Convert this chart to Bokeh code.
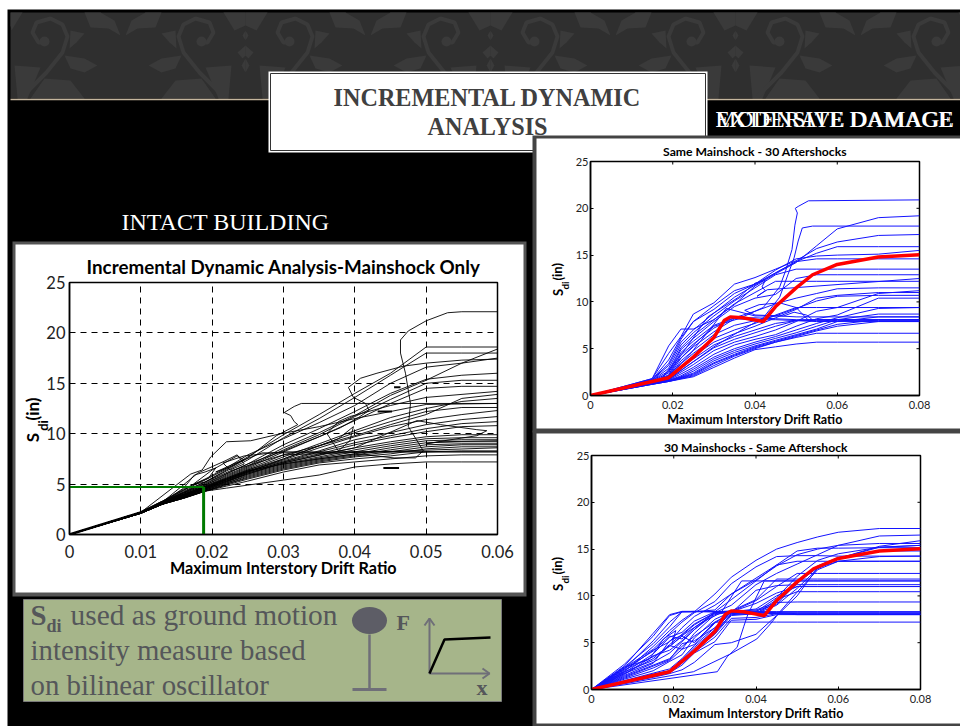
from bokeh.plotting import figure
from bokeh.models import Range1d, FixedTicker
from bokeh.core.properties import value
from bokeh.embed import file_html
from bokeh.resources import INLINE

# ---------- data ----------
TICKS_MAIN_X = [0, .01, .02, .03, .04, .05, .06]
TICKS_AFTER_X = [0, .02, .04, .06, .08]
TICKS_Y = [0, 5, 10, 15, 20, 25]

TRUNK_X = [0, .01, .013]
TRUNK_Y = [0, 2.2, 3.2]
X_MAIN = [0, .01, .013, .016, .019, .022, .025, .03, .035, .04, .045, .05, .055, .06]
Y_MAIN = [
    [0, 2.2, 3.3, 4.4, 5.4, 6.5, 7.7, 9.9, 11.9, 14.0, 16.0, 18.6, 18.6, 18.6],
    [0, 2.2, 3.2, 4.3, 5.2, 6.3, 7.4, 9.6, 11.5, 13.6, 15.8, 18.0, 18.0, 18.0],
    [0, 2.2, 3.3, 4.5, 5.5, 6.6, 7.9, 9.5, 11.1, 12.8, 15.0, 16.6, 17.0, 17.5],
    [0, 2.2, 3.2, 4.2, 5.0, 6.0, 7.0, 8.9, 10.5, 12.2, 14.0, 15.4, 15.8, 16.0],
    [0, 2.2, 3.2, 4.1, 4.9, 5.9, 6.8, 8.6, 10.1, 11.8, 13.8, 15.3, 17.0, 18.4],
    [0, 2.2, 3.2, 4.1, 4.9, 5.8, 6.7, 8.4, 9.9, 11.7, 13.4, 15.0, 15.3, 15.3],
    [0, 2.2, 3.2, 4.0, 4.8, 5.7, 6.6, 8.2, 9.7, 11.3, 13.0, 14.5, 14.7, 14.7],
    [0, 2.2, 3.1, 4.0, 4.8, 5.6, 6.5, 7.9, 8.8, 9.8, 10.9, 11.9, 13.5, 13.9],
    [0, 2.2, 3.1, 4.0, 4.7, 5.6, 6.4, 7.7, 9.0, 10.3, 11.6, 12.5, 13.2, 13.5],
    [0, 2.2, 3.1, 3.9, 4.7, 5.5, 6.4, 7.5, 8.8, 10.1, 11.2, 12.2, 12.6, 12.6],
    [0, 2.2, 3.1, 3.9, 4.6, 5.5, 6.3, 7.4, 8.6, 9.7, 10.7, 11.4, 11.9, 12.3],
    [0, 2.2, 3.1, 3.9, 4.6, 5.4, 6.3, 7.3, 8.3, 9.4, 10.1, 10.9, 11.4, 11.7],
    [0, 2.2, 3.1, 3.8, 4.6, 5.4, 6.2, 7.2, 8.2, 9.1, 9.8, 10.5, 11.0, 11.2],
    [0, 2.2, 3.0, 3.8, 4.5, 5.3, 6.2, 7.2, 8.0, 8.9, 9.6, 10.2, 10.7, 10.8],
    [0, 2.2, 3.0, 3.8, 4.5, 5.3, 6.1, 7.1, 7.9, 8.6, 9.2, 9.7, 9.9, 9.9],
    [0, 2.2, 3.0, 3.8, 4.5, 5.2, 6.1, 7.0, 7.7, 8.4, 9.0, 9.5, 9.6, 9.6],
    [0, 2.2, 3.0, 3.7, 4.4, 5.2, 6.0, 6.9, 7.6, 8.2, 8.8, 9.3, 9.4, 9.4],
    [0, 2.1, 3.0, 3.7, 4.4, 5.1, 5.9, 6.8, 7.5, 8.0, 8.6, 9.1, 9.2, 9.2],
    [0, 2.1, 3.0, 3.7, 4.4, 5.1, 5.8, 6.7, 7.4, 7.9, 8.4, 8.9, 9.0, 9.0],
    [0, 2.1, 3.0, 3.7, 4.3, 5.0, 5.7, 6.6, 7.3, 7.8, 8.2, 8.7, 8.9, 8.9],
    [0, 2.1, 3.0, 3.6, 4.3, 5.0, 5.6, 6.5, 7.2, 7.7, 8.0, 8.5, 8.7, 8.7],
    [0, 2.1, 3.0, 3.6, 4.3, 4.9, 5.5, 6.4, 7.1, 7.5, 7.8, 8.2, 8.3, 8.3],
    [0, 2.1, 3.0, 3.6, 4.3, 4.8, 5.3, 6.2, 6.9, 7.2, 7.5, 7.8, 7.9, 7.9],
    [0, 2.1, 3.0, 3.6, 4.3, 4.6, 4.9, 5.4, 5.9, 6.7, 7.0, 7.2, 7.2, 7.2],
]
# curves that double back on themselves (collapse hooks and loops)
HOOK_X = [
    [0, .01, .013, .02, .025, .03, .04, .0455, .0485, .0496, .0475, .0478, .0471, .0464, .0464, .0475, .05, .053, .055, .06],
    [0, .01, .013, .019, .025, .029, .032, .0315, .031, .0301, .0315, .0325, .06],
    [0, .01, .013, .02, .025, .03, .035, .038, .0405, .042, .0415, .0398, .0391, .0408, .0431, .0468, .05, .055, .06],
    [0, .01, .013, .02, .025, .03, .0377, .0398, .0393, .0377, .0361, .0377, .0393, .045, .05, .06],
    [0, .01, .013, .02, .025, .03, .04, .0487, .052, .0571, .0585, .0571, .0525, .05, .052, .06],
    [0, .01, .0146, .017, .0186, .0198, .022, .0254, .0296, .035, .04, .05, .06],
    [0, .01, .013, .018, .0218, .0235, .0245, .0225, .0215, .0245, .03, .06],
    [0, .01, .013, .017, .02, .0235, .0245, .0225, .0205, .023, .027, .032, .04, .06],
    [0, .01, .013, .016, .0175, .019, .0205, .0195, .0175, .019, .0225, .03, .06],
]
HOOK_Y = [
    [0, 2.2, 3.2, 5.0, 6.3, 7.0, 8.0, 7.6, 7.6, 8.3, 10.7, 13.0, 16.0, 18.0, 19.3, 20.2, 21.2, 22.0, 22.1, 22.1],
    [0, 2.2, 3.2, 5.2, 7.6, 9.8, 10.9, 11.2, 11.8, 12.1, 12.7, 13.0, 13.0],
    [0, 2.2, 3.2, 5.4, 7.0, 8.3, 9.7, 10.6, 11.6, 12.3, 13.0, 13.6, 14.6, 15.5, 16.0, 16.7, 17.0, 17.3, 17.4],
    [0, 2.2, 3.2, 4.9, 6.2, 7.5, 9.5, 10.7, 9.3, 8.3, 10.0, 11.2, 11.7, 12.8, 13.6, 14.2],
    [0, 2.2, 3.1, 4.8, 6.0, 7.1, 8.6, 11.3, 10.9, 10.4, 10.3, 9.8, 9.3, 9.0, 9.2, 9.3],
    [0, 2.2, 4.7, 6.0, 6.4, 7.7, 9.2, 9.3, 10.0, 10.7, 11.5, 12.9, 13.0],
    [0, 2.2, 3.2, 6.1, 7.3, 7.9, 7.0, 6.4, 7.1, 7.8, 8.2, 8.2],
    [0, 2.2, 3.2, 4.8, 6.4, 7.8, 7.4, 6.7, 6.2, 7.0, 8.1, 8.1, 8.2, 8.2],
    [0, 2.2, 3.2, 4.6, 5.9, 6.2, 6.6, 5.6, 5.0, 5.2, 6.3, 7.9, 8.6, 8.6],
]
STUB_X0 = [.0432, .0455, .0440]
STUB_X1 = [.0452, .0464, .0462]
STUB_Y = [12.2, 14.6, 6.6]
INTENSITY_X = [0, .0188, .0188]
INTENSITY_Y = [4.7, 4.7, 0]

X_AFTER = [0, .015, .019, .022, .025, .03, .035, .04, .045, .05, .055, .06, .07, .08]
Y_AFTER = [
    [0, 1.2, 1.5, 1.75, 2.0, 3.0, 4.0, 4.9, 5.2, 5.5, 5.7, 5.7, 5.7, 5.7],
    [0, 1.2, 1.5, 1.8, 2.1, 3.2, 4.2, 5.0, 5.7, 6.2, 6.65, 6.65, 6.65, 6.65],
    [0, 1.2, 1.5, 1.85, 2.2, 3.4, 4.3, 5.1, 5.7, 6.3, 6.9, 7.4, 7.9, 7.9],
    [0, 1.25, 1.55, 1.9, 2.3, 3.5, 4.4, 5.2, 5.8, 6.4, 7.0, 7.6, 8.1, 8.1],
    [0, 1.25, 1.55, 1.95, 2.4, 3.7, 4.6, 5.3, 5.9, 6.5, 7.1, 7.9, 8.4, 8.4],
    [0, 1.25, 1.6, 2.0, 2.6, 3.9, 4.8, 5.5, 6.1, 6.7, 7.4, 8.1, 8.7, 8.7],
    [0, 1.3, 1.6, 2.1, 2.8, 4.1, 5.0, 5.7, 6.3, 7.0, 7.7, 8.3, 9.3, 9.4],
    [0, 1.3, 1.65, 2.3, 3.0, 4.4, 5.4, 6.0, 6.5, 7.4, 8.2, 8.6, 10.4, 10.4],
    [0, 1.3, 1.7, 2.5, 3.3, 4.8, 5.7, 6.3, 7.0, 7.9, 9.0, 9.4, 10.9, 11.2],
    [0, 1.35, 1.75, 2.7, 3.6, 5.1, 6.0, 6.7, 7.4, 8.0, 8.1, 8.1, 8.1, 8.1],
    [0, 1.35, 1.75, 2.9, 3.9, 5.4, 6.3, 7.0, 7.7, 8.0, 7.9, 7.9, 7.9, 7.9],
    [0, 1.4, 1.8, 3.1, 4.2, 5.7, 6.6, 7.4, 8.3, 9.2, 10.4, 10.7, 11.0, 11.0],
    [0, 1.4, 1.85, 3.4, 4.5, 6.1, 7.0, 7.7, 8.6, 9.4, 9.4, 9.4, 9.4, 9.4],
    [0, 1.45, 1.9, 3.7, 4.8, 6.5, 7.5, 8.0, 8.5, 9.3, 10.1, 10.6, 10.7, 10.7],
    [0, 1.45, 2.0, 4.0, 5.2, 6.8, 8.2, 8.1, 8.1, 8.0, 8.0, 8.0, 8.0, 8.0],
    [0, 1.5, 2.1, 4.3, 5.5, 7.2, 8.3, 8.3, 8.2, 8.1, 8.1, 8.1, 8.1, 8.1],
    [0, 1.5, 2.2, 4.6, 5.8, 7.5, 8.3, 9.0, 9.8, 10.4, 10.9, 11.4, 11.5, 11.5],
    [0, 1.55, 2.4, 4.9, 6.1, 7.9, 9.5, 10.4, 10.8, 12.5, 12.9, 12.9, 12.9, 12.9],
    [0, 1.6, 2.6, 5.1, 6.4, 8.1, 9.8, 11.0, 12.2, 12.2, 12.2, 12.2, 12.2, 12.2],
    [0, 1.6, 2.9, 5.4, 6.7, 8.5, 10.1, 11.5, 12.9, 13.5, 13.5, 13.5, 13.5, 13.5],
    [0, 1.65, 3.2, 5.7, 7.0, 8.8, 10.5, 11.8, 13.1, 14.3, 14.6, 14.6, 14.6, 14.6],
    [0, 1.7, 3.4, 6.0, 7.9, 9.2, 10.9, 11.9, 13.4, 14.6, 14.9, 15.0, 15.1, 15.5],
    [0, 1.7, 3.8, 6.2, 7.9, 9.6, 11.2, 11.9, 13.1, 14.3, 15.2, 15.9, 15.9, 15.9],
    [0, 1.8, 4.5, 6.3, 8.7, 9.9, 11.9, 12.6, 13.5, 14.4, 15.7, 16.4, 17.1, 17.2],
    [0, 1.8, 5.3, 7.1, 7.1, 8.1, 9.7, 11.7, 13.0, 14.2, 16.0, 17.8, 19.0, 19.2],
]
AFTER_HOOK_X = [
    [0, .017, .022, .026, .03, .036, .042, .046, .0475, .049, .0497, .0503, .0498, .0505, .053, .08],
    [0, .019, .024, .03, .036, .042, .046, .048, .0495, .0505, .0515, .054, .08],
    [0, .018, .024, .03, .033, .04, .047, .0495, .0525, .0537, .0533, .05, .046, .041, .0375, .04, .046, .05, .08],
    [0, .017, .023, .0285, .036, .04, .0425, .0417, .0425, .0405, .043, .08],
]
AFTER_HOOK_Y = [
    [0, 1.7, 4.0, 5.8, 7.4, 8.2, 9.4, 11.6, 13.4, 15.6, 18.2, 19.5, 20.0, 20.2, 20.8, 20.9],
    [0, 1.7, 3.3, 5.2, 6.8, 8.3, 10.5, 12.9, 14.7, 16.5, 17.9, 18.1, 18.1],
    [0, 1.7, 4.3, 7.6, 9.3, 8.5, 8.5, 8.9, 8.6, 8.2, 7.9, 9.4, 9.9, 9.7, 9.1, 8.6, 8.5, 8.4, 8.4],
    [0, 1.7, 4.9, 8.4, 10.5, 12.0, 12.3, 11.6, 11.2, 10.6, 11.3, 12.5],
]
MEAN_X = [0, .019, .025, .03, .0325, .034, .037, .042, .045, .05, .054, .06, .07, .08]
MEAN_Y = [0, 1.9, 4.1, 6.2, 8.0, 8.4, 8.3, 7.9, 9.5, 11.5, 12.9, 14.0, 14.8, 15.05]

X_SHOCK = [0, .008, .015, .019, .022, .025, .03, .034, .04, .045, .05, .055, .06, .07, .08]
Y_SHOCK = [
    [0, 2.7, 5.7, 7.9, 8.3, 8.3, 10.2, 12.0, 13.8, 15.0, 15.7, 16.3, 16.8, 17.2, 17.2],
    [0, 2.5, 6.0, 8.0, 8.35, 8.35, 8.35, 8.3, 8.2, 8.1, 8.05, 8.05, 8.05, 8.05, 8.05],
    [0, 2.2, 5.2, 7.2, 8.3, 8.35, 8.3, 8.3, 8.2, 8.1, 8.0, 8.0, 8.0, 8.0, 8.0],
    [0, 1.9, 4.6, 6.3, 7.4, 8.3, 8.3, 8.3, 8.3, 8.3, 8.3, 8.3, 8.3, 8.3, 8.3],
    [0, 2.4, 4.9, 6.7, 8.3, 8.3, 8.5, 10.2, 11.9, 13.3, 13.7, 13.7, 13.7, 13.7, 13.7],
    [0, 2.3, 4.3, 6.0, 7.2, 8.2, 9.4, 11.3, 13.1, 14.2, 14.3, 14.3, 14.25, 14.25, 14.25],
    [0, 2.0, 4.2, 5.1, 6.6, 7.8, 9.0, 10.2, 11.7, 13.2, 14.4, 15.0, 15.4, 15.6, 15.6],
    [0, 1.8, 3.8, 5.6, 6.1, 7.3, 8.3, 9.6, 11.6, 13.3, 14.8, 15.1, 15.1, 15.15, 15.15],
    [0, 1.7, 3.3, 4.8, 5.9, 7.0, 8.2, 9.0, 11.2, 12.4, 13.4, 14.4, 15.4, 16.4, 16.5],
    [0, 1.6, 3.6, 4.2, 5.2, 6.4, 8.3, 8.4, 9.6, 11.8, 11.8, 11.8, 11.8, 11.8, 11.8],
    [0, 1.5, 2.8, 5.2, 5.8, 6.9, 8.2, 8.3, 8.5, 9.3, 9.35, 9.35, 9.35, 9.35, 9.35],
    [0, 1.4, 2.6, 3.3, 4.6, 5.7, 7.2, 7.2, 7.2, 7.2, 7.2, 7.2, 7.2, 7.2, 7.2],
    [0, 1.3, 2.5, 3.2, 4.9, 5.2, 6.6, 8.3, 9.5, 11.0, 12.4, 12.4, 12.4, 12.4, 12.4],
    [0, 1.2, 2.3, 3.1, 4.3, 4.8, 7.1, 8.2, 10.6, 11.1, 11.2, 11.2, 11.2, 11.2, 11.2],
    [0, 1.1, 2.0, 3.0, 3.7, 5.5, 7.5, 8.3, 8.6, 10.0, 11.0, 11.0, 11.0, 11.0, 11.0],
    [0, .95, 1.75, 2.2, 3.3, 4.7, 6.6, 8.1, 8.1, 9.6, 10.45, 10.45, 10.45, 10.45, 10.45],
    [0, .9, 1.65, 2.0, 3.2, 4.5, 6.4, 8.3, 8.4, 9.1, 11.4, 13.0, 13.7, 13.7, 13.7],
    [0, .85, 1.6, 2.0, 3.1, 4.3, 6.2, 8.0, 8.1, 9.3, 11.3, 13.2, 14.1, 14.8, 14.8],
    [0, .85, 1.55, 1.9, 3.0, 4.2, 6.0, 8.1, 8.3, 9.8, 12.1, 13.8, 14.5, 15.2, 15.4],
    [0, .8, 1.5, 1.9, 2.9, 4.1, 5.9, 7.9, 8.1, 9.0, 10.8, 12.9, 14.0, 15.3, 15.9],
    [0, .8, 1.5, 1.8, 2.8, 4.0, 5.6, 7.6, 7.7, 8.1, 8.05, 8.05, 8.05, 8.05, 8.05],
    [0, .75, 1.4, 1.8, 2.6, 3.9, 5.1, 7.4, 7.5, 8.0, 8.0, 8.0, 8.0, 8.0, 8.0],
    [0, .7, 1.3, 1.7, 2.1, 2.9, 4.8, 5.0, 5.9, 7.9, 10.4, 12.8, 13.7, 14.2, 14.25],
    [0, 2.2, 4.1, 5.7, 5.4, 6.6, 8.2, 8.3, 8.3, 8.2, 8.1, 8.1, 8.1, 8.1, 8.1],
    [0, 2.1, 3.5, 4.6, 5.7, 5.0, 7.2, 8.2, 8.2, 8.2, 8.2, 8.2, 8.2, 8.2, 8.2],
    [0, 1.9, 3.1, 4.7, 4.3, 6.0, 8.0, 8.3, 9.2, 10.3, 11.0, 11.0, 11.0, 11.0, 11.0],
    [0, 1.7, 2.9, 3.9, 5.1, 6.4, 8.1, 8.3, 8.3, 8.3, 8.3, 8.3, 8.3, 8.3, 8.3],
]
SHOCK_HOOK_X = [
    [0, .0248, .0338, .0402, .0435, .0451, .05, .055, .06, .07, .08],
    [0, .0306, .033, .0354, .037, .038, .042, .05, .054, .06, .07, .08],
    [0, .008, .014, .0175, .0205, .0195, .0225, .027, .0315, .0365, .042, .08],
]
SHOCK_HOOK_Y = [
    [0, 1.9, 3.8, 5.4, 7.0, 7.9, 10.0, 13.0, 14.0, 15.2, 15.4],
    [0, 1.9, 3.5, 4.5, 6.7, 8.0, 11.6, 11.6, 11.6, 11.6, 11.6, 11.6],
    [0, 2.4, 3.2, 5.4, 6.3, 4.8, 5.9, 7.2, 8.2, 11.6, 11.6, 11.6],
]

TITLE_MAIN = "Incremental Dynamic Analysis-Mainshock Only"
TITLE_AFTER = "Same Mainshock - 30 Aftershocks"
TITLE_SHOCK = "30 Mainshocks - Same Aftershock"
XLABEL = "Maximum Interstory Drift Ratio"
ABS = {"position": "absolute"}
SERIF = value("Liberation Serif")
SANS = value("Lato")


def text(p, x, y, s, size, color, font=SERIF, bold=False, align="left", angle=0):
    p.text(x=[x], y=[y], text=[s], text_font=font, text_font_size=f"{size}px",
           text_font_style="bold" if bold else "normal", text_color=color,
           text_align=align, text_baseline="middle", angle=angle)


def box(p, l, t, r, b, fill, line=None, lw=1):
    p.quad(left=[l], right=[r], top=[t], bottom=[b], fill_color=fill,
           line_color=line, line_width=lw)


# ---------- slide background, in window pixels ----------
bg = figure(width=960, height=726, x_range=Range1d(0, 960), y_range=Range1d(726, 0),
            toolbar_location=None, output_backend="svg", min_border=0,
            styles=dict(ABS, left="0px", top="0px"))
bg.axis.visible = False
bg.grid.visible = False
bg.outline_line_color = None
bg.background_fill_color = "white"
bg.border_fill_color = "white"

box(bg, 7, 9, 960, 726, "black")
box(bg, 10, 12, 960, 98, "#2f2f2f")

ORN = "#3a3a3a"
LEAVES = [
    [(-97, 65), (-84, 58), (-64, 55), (-70, 68), (-84, 72)],
    [(-84, 33), (-70, 30), (-69, 48), (-76, 42)],
    [(-120, 35), (-114, 20), (-100, 12), (-84, 12), (-90, 27), (-108, 28)],
    [(-84, 98), (-70, 80), (-44, 78), (-30, 98)],
    [(-40, 67), (-14, 65), (-17, 98), (-27, 98)],
    [(-22, 12), (-11, 30), (0, 25), (0, 12)],
    [(0, 30), (-3, 35), (0, 40)],
    [(0, 45), (-8, 52), (-3, 58), (0, 55)],
    [(0, 58), (-4, 65), (0, 72)],
]
STEM = [(-48, 42), (-38, 42), (-32, 32), (-36, 22), (-50, 18), (-62, 24), (-67, 36),
        (-62, 52), (-46, 72), (-22, 96)]
for cx in (0, 245, 490, 735, 980):
    for sgn in (-1, 1):
        if cx == 0 and sgn == 1:
            continue
        xs = [[[[max(10, cx + sgn * dx) for dx, _ in leaf]]] for leaf in LEAVES]
        ys = [[[[y for _, y in leaf]]] for leaf in LEAVES]
        bg.multi_polygons(xs, ys, fill_color=ORN, line_color=None)
        bg.line([max(10, cx + sgn * dx) for dx, _ in STEM], [y for _, y in STEM],
                line_color=ORN, line_width=4)
        bg.circle([cx + sgn * -44], [41], radius=5, fill_color=ORN, line_color=None)

bg.line([10, 960], [99, 99], line_color="#c4b59d", line_width=1.5)

box(bg, 268, 71, 707, 152, "white")
box(bg, 270, 73, 705, 150, "white", "#333333", 1)
text(bg, 487, 97, "INCREMENTAL DYNAMIC", 24.2, "#404040", bold=True, align="center")
text(bg, 487, 126, "ANALYSIS", 24.2, "#404040", bold=True, align="center")
text(bg, 715, 118, "MODERATE DAMAGE", 23.5, "white")
text(bg, 715, 118, "EXTENSIVE DAMAGE", 23.5, "white")
text(bg, 121, 221, "INTACT BUILDING", 24, "white")

# white panels that hold the three charts
box(bg, 12, 241, 526, 596, "#555555")
box(bg, 15, 244, 523, 592, "white")
box(bg, 532, 135, 965, 432, "#444444")
box(bg, 536, 138, 965, 428, "white")
box(bg, 532, 430, 965, 726, "#444444")
box(bg, 536, 433, 965, 723, "white")

for x, ys, yd, size in ((32, 437, 425, 17), (557, 292, 285, 13), (557, 587, 579, 13)):
    text(bg, x, ys, "S", size, "black", SANS, True, "center", 1.5708)
    text(bg, x + size * .6, yd, "di", size * .75, "black", SANS, True, "center", 1.5708)
    text(bg, x, yd - 5, "(in)", size, "black", SANS, True, "left", 1.5708)

# green note
box(bg, 23, 599, 501, 701, "#a6b58a", "#7a7a7a", 1)
NOTE = "#55575a"
text(bg, 30, 614, "S", 28.8, NOTE, bold=True)
text(bg, 46, 625, "di", 18, NOTE, bold=True)
text(bg, 70, 614, "used as ground motion", 29.4, NOTE)
text(bg, 30, 649, "intensity measure based", 28.8, NOTE)
text(bg, 30, 684, "on bilinear oscillator", 28.8, NOTE)
bg.ellipse([369], [620], width=35, height=27, fill_color="#5d5d66", line_color=None)
bg.line([369, 369], [634, 689], line_color="#6f6f78", line_width=2.5)
bg.line([352, 386], [689, 689], line_color="#6f6f78", line_width=3)
text(bg, 396, 622, "F", 22, NOTE, bold=True)
text(bg, 476, 687, "x", 22, NOTE, bold=True)
GREY = "#6f6f78"
bg.line([429, 429, 489], [618, 673, 673], line_color=GREY, line_width=2)
bg.line([424, 429, 434], [625, 618, 625], line_color=GREY, line_width=2)
bg.line([482, 489, 482], [668, 673, 678], line_color=GREY, line_width=2)
bg.line([429, 444, 490], [673, 639, 637], line_color="black", line_width=2.5)


# ---------- charts ----------
def chart(left, right, top, bottom, xmax, xticks, title, tick_px, title_px, label_px,
          ml, mt, mb, tick_gap, y_gap, label_gap, title_gap, inner_ticks):
    mr = 40
    w, h = right - left, bottom - top
    p = figure(width=w + ml + mr, height=h + mt + mb, frame_width=w, frame_height=h,
               x_range=Range1d(0, xmax), y_range=Range1d(0, 25),
               toolbar_location=None, output_backend="svg",
               min_border_left=ml, min_border_right=mr, min_border_top=mt, min_border_bottom=mb,
               styles=dict(ABS, left=f"{left - ml}px", top=f"{top - mt}px"))
    p.background_fill_color = None
    p.border_fill_color = None
    p.outline_line_color = "black"
    p.outline_line_width = 1.5
    p.xaxis.ticker = FixedTicker(ticks=xticks)
    p.yaxis.ticker = FixedTicker(ticks=TICKS_Y)
    p.xaxis.major_label_overrides = {t: ("0" if t == 0 else f"{t:g}") for t in xticks}
    p.xaxis.axis_label = XLABEL
    p.xaxis.axis_label_text_font = "Lato"
    p.xaxis.axis_label_text_font_style = "bold"
    p.xaxis.axis_label_text_font_size = f"{label_px}px"
    p.xaxis.axis_label_text_color = "black"
    p.xaxis.axis_label_standoff = label_gap
    for ax in (p.xaxis[0], p.yaxis[0]):
        ax.major_label_text_font = "Lato"
        ax.major_label_text_font_size = f"{tick_px}px"
        ax.major_label_text_color = "#222222"
        ax.major_tick_out = 0
        ax.major_tick_in = 3
        ax.minor_tick_line_color = None
        ax.axis_line_color = "black"
        ax.axis_line_width = 1.5
    p.xaxis[0].major_label_standoff = tick_gap
    p.yaxis[0].major_label_standoff = y_gap
    p.xgrid.visible = False
    p.ygrid.visible = False
    p.title.text = title
    p.title.text_font = "Lato"
    p.title.text_font_style = "bold"
    p.title.text_font_size = f"{title_px}px"
    p.title.text_color = "black"
    p.title.align = "center"
    p.title.standoff = title_gap
    if inner_ticks:
        # matching inward ticks along the top and right edges, three pixels long
        ty, tx = 25 * 3 / h, xmax * 3 / w
        p.segment(xticks, [25] * len(xticks), xticks, [25 - ty] * len(xticks),
                  line_color="black", line_width=1)
        p.segment([xmax] * len(TICKS_Y), TICKS_Y, [xmax - tx] * len(TICKS_Y), TICKS_Y,
                  line_color="black", line_width=1)
    return p


main = chart(69, 497, 282, 534, .06, TICKS_MAIN_X, TITLE_MAIN, 16.5, 18.8, 16.2,
             55, 34, 50, 10, 4, -3, 9, False)
main.xgrid.visible = True
main.ygrid.visible = True
for g in (main.xgrid[0], main.ygrid[0]):
    g.grid_line_color = "black"
    g.grid_line_dash = "6 5"
    g.grid_line_width = 1
main.multi_line([X_MAIN] * len(Y_MAIN), Y_MAIN, line_color="black", line_width=.9)
main.multi_line(HOOK_X, HOOK_Y, line_color="black", line_width=.9)
main.line(TRUNK_X, TRUNK_Y, line_color="black", line_width=2.5)
main.segment(STUB_X0, STUB_Y, STUB_X1, STUB_Y, line_color="black", line_width=2)
main.line(INTENSITY_X[:2], INTENSITY_Y[:2], line_color="#007a00", line_width=2)
main.line(INTENSITY_X[1:], INTENSITY_Y[1:], line_color="#007a00", line_width=3)

after = chart(590, 919, 161, 395, .08, TICKS_AFTER_X, TITLE_AFTER, 11, 12.2, 12.5,
              30, 22, 32, 5, 2, 0, 5, True)
after.multi_line([X_AFTER] * len(Y_AFTER), Y_AFTER, line_color="#1414ff", line_width=1)
after.multi_line(AFTER_HOOK_X, AFTER_HOOK_Y, line_color="#1414ff", line_width=1)
after.line(MEAN_X, MEAN_Y, line_color="#ff0000", line_width=3.5)

shock = chart(591, 920, 455, 689, .08, TICKS_AFTER_X, TITLE_SHOCK, 11, 12.2, 12.5,
              30, 22, 32, 5, 2, 0, 2, True)
shock.multi_line([X_SHOCK] * len(Y_SHOCK), Y_SHOCK, line_color="#1414ff", line_width=1)
shock.multi_line(SHOCK_HOOK_X, SHOCK_HOOK_Y, line_color="#1414ff", line_width=1)
shock.line(MEAN_X, MEAN_Y, line_color="#ff0000", line_width=3.5)

open("out.html", "w").write(file_html([bg, main, after, shock], INLINE))
